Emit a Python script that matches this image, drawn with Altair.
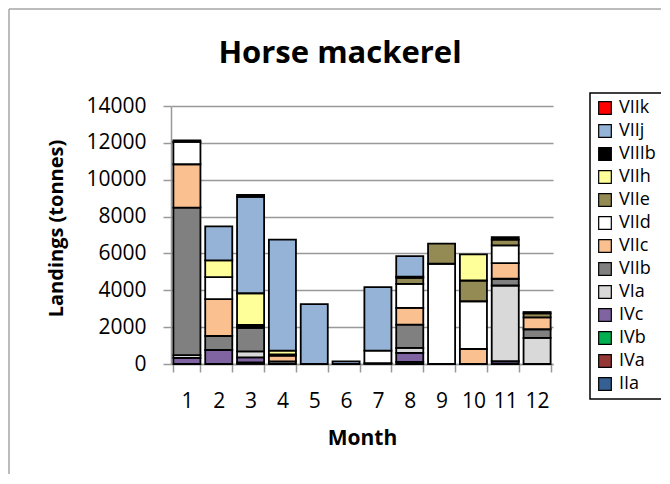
import altair as alt
import pandas as pd

months = [str(m) for m in range(1, 13)]

# stacking order, bottom to top
areas = ["IIa", "IVa", "IVb", "IVc", "VIa", "VIIb", "VIIc", "VIId",
         "VIIe", "VIIh", "VIIIb", "VIIj", "VIIk"]
colors = ["#376092", "#953735", "#00B050", "#8064A2", "#D9D9D9", "#808080",
          "#FAC090", "#FFFFFF", "#948A54", "#FFFF99", "#000000", "#95B3D7",
          "#FF0000"]

IIa = [0, 0, 0, 0, 0, 0, 0, 0, 0, 0, 0, 0]
IVa = [0, 0, 0, 0, 0, 0, 0, 0, 0, 0, 0, 0]
IVb = [0, 0, 90, 0, 0, 0, 0, 120, 0, 0, 0, 0]
IVc = [330, 760, 270, 0, 0, 0, 50, 480, 0, 0, 150, 0]
VIa = [150, 0, 325, 0, 0, 0, 0, 270, 0, 0, 4110, 1415]
VIIb = [8010, 760, 1275, 140, 0, 0, 0, 1270, 0, 0, 365, 470]
VIIc = [2350, 2000, 80, 310, 0, 0, 0, 905, 0, 815, 850, 650]
VIId = [1210, 1190, 80, 75, 0, 0, 680, 1305, 5440, 2590, 960, 0]
VIIe = [0, 0, 0, 0, 0, 0, 0, 330, 1090, 1125, 310, 215]
VIIh = [0, 910, 1720, 200, 0, 0, 0, 0, 0, 1415, 0, 0]
VIIIb = [80, 0, 0, 0, 0, 0, 0, 60, 0, 0, 145, 70]
VIIj = [0, 1850, 5225, 6020, 3250, 140, 3440, 1115, 0, 0, 0, 0]
VIIk = [0, 0, 105, 0, 0, 0, 0, 0, 0, 0, 0, 0]

series = [IIa, IVa, IVb, IVc, VIa, VIIb, VIIc, VIId, VIIe, VIIh, VIIIb, VIIj, VIIk]

rows = []
for idx, (name, vals) in enumerate(zip(areas, series)):
    for m, v in zip(months, vals):
        if v > 0:
            rows.append({"Month": m, "Area": name, "Landings": v, "idx": idx})
df = pd.DataFrame(rows)

legend_domain = areas[::-1]
legend_range = colors[::-1]

FONT = "Open Sans"
TITLE = "Horse mackerel"

bars = alt.Chart(df).mark_bar(stroke="black", strokeWidth=1.8).encode(
    x=alt.X("Month:N", sort=months,
            scale=alt.Scale(paddingInner=0.15, paddingOuter=0.075),
            axis=alt.Axis(title="Month", labelAngle=0, tickBand="extent",
                          tickSize=8, labelPadding=18, titlePadding=16,
                          labelFontSize=21, titleFontSize=21,
                          titleFontWeight="bold", labelColor="black",
                          titleColor="black", domainColor="#999999",
                          tickColor="#999999", domainWidth=1.5, tickWidth=1.5,
                          grid=False)),
    y=alt.Y("sum(Landings):Q",
            scale=alt.Scale(domain=[0, 14000]),
            axis=alt.Axis(title="Landings (tonnes)", values=list(range(0, 14001, 2000)),
                          format="d",
                          tickSize=8, labelPadding=17, labelFontSize=21,
                          titleFontSize=20, titleFontWeight="bold",
                          titleAngle=270, titleX=-109, titleY=122,
                          titleBaseline="alphabetic", titleAlign="center",
                          labelColor="black", titleColor="black",
                          domainColor="#999999", tickColor="#999999",
                          domainWidth=1.5, tickWidth=1.5,
                          gridColor="#999999", gridWidth=1.5)),
    color=alt.Color("Area:N",
                    scale=alt.Scale(domain=legend_domain, range=legend_range),
                    legend=alt.Legend(title=None, orient="none", legendX=419,
                                      legendY=-13, symbolType="square",
                                      symbolSize=160, symbolStrokeColor="black",
                                      symbolStrokeWidth=1.2, labelFontSize=18,
                                      labelColor="black", labelOffset=5,
                                      rowPadding=5, padding=6,
                                      strokeColor="black", fillColor="white",
                                      labelLimit=200)),
    order=alt.Order("idx:Q", sort="ascending"),
)

one_row = pd.DataFrame({"t": [TITLE]})

# chart title
title_text = alt.Chart(one_row).mark_text(
    fontSize=31, fontWeight="bold", font=FONT, color="black",
    align="center", baseline="alphabetic"
).encode(text="t:N", x=alt.value(169), y=alt.value(-43))

# outer chart frame (decoration, left and top edges)
frame_left = alt.Chart(one_row).mark_rule(color="#a6a6a6", strokeWidth=1.5).encode(
    x=alt.value(-162), y=alt.value(-97), y2=alt.value(372)
)
frame_top = alt.Chart(one_row).mark_rule(color="#a6a6a6", strokeWidth=1.5).encode(
    x=alt.value(-162), x2=alt.value(495), y=alt.value(-97)
)

chart = alt.layer(bars, title_text, frame_left, frame_top).properties(
    width=382,
    height=258,
    autosize=alt.AutoSizeParams(type="none"),
    padding={"left": 163, "top": 98, "right": 108, "bottom": 110},
).configure(font=FONT).configure_view(stroke=None).configure_legend(
    strokeWidth=1.5
)

chart.save("out.html", embed_options={"renderer": "svg", "actions": False})
